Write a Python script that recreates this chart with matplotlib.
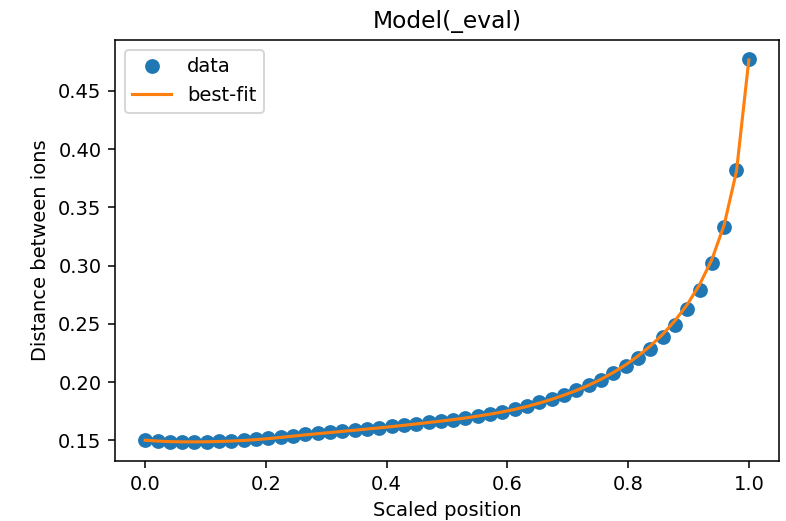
import numpy as np
import matplotlib
matplotlib.use("Agg")
import matplotlib.pyplot as plt

# scaled position of each ion (50 ions, half chain)
position = np.linspace(0.0, 1.0, 50)

# measured distance between neighbouring ions
distance = [
    0.1500, 0.1494, 0.1491, 0.1490, 0.1490, 0.1491, 0.1493, 0.1497, 0.1502, 0.1510,
    0.1520, 0.1531, 0.1542, 0.1552, 0.1561, 0.1570, 0.1580, 0.1590, 0.1600, 0.1610,
    0.1621, 0.1632, 0.1643, 0.1655, 0.1666, 0.1678, 0.1692, 0.1708, 0.1726, 0.1746,
    0.1768, 0.1795, 0.1826, 0.1858, 0.1893, 0.1930, 0.1973, 0.2022, 0.2080, 0.2142,
    0.2210, 0.2288, 0.2385, 0.2491, 0.2629, 0.2794, 0.3020, 0.3328, 0.3820, 0.4772,
]

# model evaluated at the same positions
best_fit = [
    0.1502, 0.1495, 0.1490, 0.1488, 0.1488, 0.1489, 0.1491, 0.1495, 0.1500, 0.1507,
    0.1516, 0.1526, 0.1537, 0.1548, 0.1558, 0.1568, 0.1578, 0.1588, 0.1598, 0.1608,
    0.1619, 0.1630, 0.1642, 0.1654, 0.1666, 0.1679, 0.1693, 0.1709, 0.1726, 0.1745,
    0.1767, 0.1792, 0.1821, 0.1853, 0.1889, 0.1929, 0.1974, 0.2025, 0.2083, 0.2149,
    0.2224, 0.2310, 0.2410, 0.2527, 0.2666, 0.2836, 0.3052, 0.3350, 0.3810, 0.4765,
]

fig = plt.figure(figsize=(787 / 140, 521 / 140), dpi=140)
ax = fig.add_axes([115 / 787, 1 - 461 / 521, (779 - 115) / 787, (461 - 40) / 521])

ax.plot(position, distance, 'o', markersize=6.6, label='data')
ax.plot(position, best_fit, '-', linewidth=1.6, label='best-fit')

ax.set_title('Model(_eval)')
ax.set_xlabel('Scaled position')
ax.set_ylabel('Distance between ions')
ax.legend(loc='upper left')

fig.savefig('out.png', dpi=140)
